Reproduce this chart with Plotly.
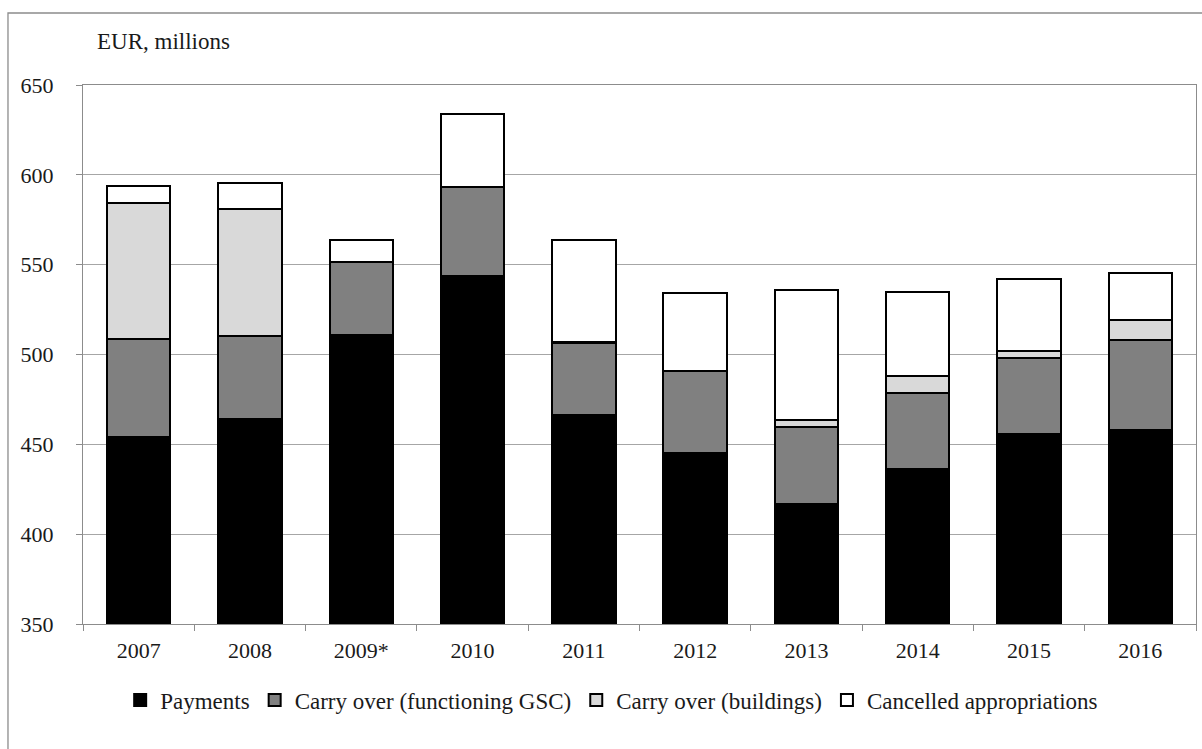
import plotly.graph_objects as go

# Budget execution of the GSC, EUR millions
years = ["2007", "2008", "2009*", "2010", "2011", "2012", "2013", "2014", "2015", "2016"]
payments = [454.3, 464.2, 511.0, 543.9, 466.5, 445.4, 417.0, 436.1, 455.6, 457.8]
carry_gsc = [54.2, 46.3, 40.3, 49.2, 40.0, 45.2, 42.5, 42.2, 42.4, 50.4]
carry_buildings = [75.9, 70.5, 0.0, 0.0, 0.5, 0.0, 4.0, 9.7, 3.7, 11.2]
cancelled = [9.2, 14.5, 12.2, 41.0, 56.5, 43.6, 72.2, 46.6, 40.3, 26.0]

series = [
    ("Payments", payments, "#000000"),
    ("Carry over (functioning GSC)", carry_gsc, "#808080"),
    ("Carry over (buildings)", carry_buildings, "#d9d9d9"),
    ("Cancelled appropriations", cancelled, "#ffffff"),
]

FONT = "Liberation Serif"
TEXT = "#1a1a1a"
GRID = "#a6a6a6"
AXIS = "#8c8c8c"

fig = go.Figure()
for name, vals, color in series:
    fig.add_trace(go.Bar(
        name=name, x=years, y=vals,
        marker=dict(color=color, line=dict(color="#000000", width=2)),
    ))

fig.update_layout(
    barmode="stack",
    bargap=0.43,
    width=1202, height=749,
    margin=dict(l=83, r=6, t=85, b=125),
    paper_bgcolor="white", plot_bgcolor="white",
    font=dict(family=FONT, size=22, color=TEXT),
    showlegend=True,
    legend=dict(
        orientation="h", x=0.475, xanchor="center", y=-0.141, yanchor="middle",
        font=dict(family=FONT, size=23, color=TEXT),
        traceorder="normal", itemwidth=30,
    ),
    annotations=[dict(
        text="EUR, millions", xref="paper", yref="paper",
        x=0.0108, y=1.08, xanchor="left", yanchor="middle",
        showarrow=False, font=dict(family=FONT, size=23, color=TEXT),
    )],
    shapes=[dict(
        type="rect", xref="paper", yref="paper",
        x0=-0.0674, x1=1.03, y0=-0.3, y1=1.1336,
        line=dict(color=AXIS, width=1.3), layer="below",
    )],
)

fig.update_xaxes(
    type="category", showgrid=False,
    showline=True, linecolor=AXIS, linewidth=1.3, mirror=True,
    ticks="outside", tickson="boundaries", ticklen=6, tickcolor=AXIS,
    ticklabelstandoff=6,
    tickfont=dict(family=FONT, size=22, color=TEXT),
)
fig.update_yaxes(
    range=[350, 650], dtick=50, tick0=350,
    showgrid=True, gridcolor=GRID, gridwidth=1.3,
    showline=True, linecolor=AXIS, linewidth=1.3, mirror=True,
    ticks="outside", ticklen=6, tickcolor=AXIS,
    ticklabelstandoff=18,
    tickfont=dict(family=FONT, size=22, color=TEXT),
    zeroline=False,
)

fig.write_html("out.html")
